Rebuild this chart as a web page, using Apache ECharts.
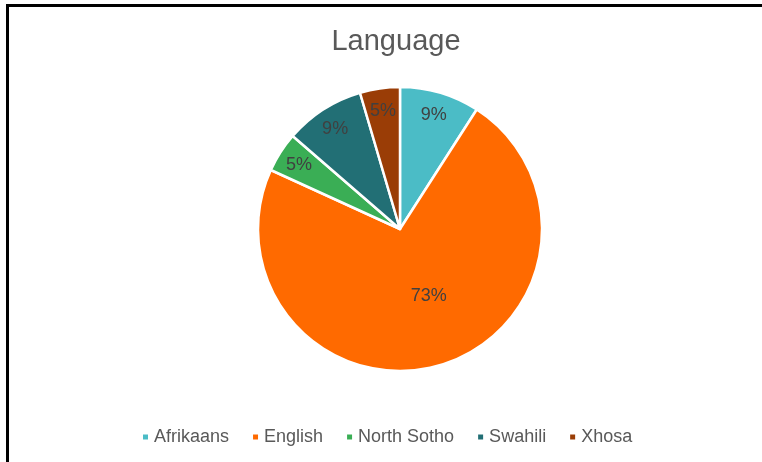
<!DOCTYPE html>
<html>
<head>
<meta charset="utf-8">
<script src="https://cdn.jsdelivr.net/npm/echarts@6/dist/echarts.min.js"></script>
<style>
  html, body { margin: 0; padding: 0; background: #fff; }
  #chart { position: absolute; left: 0; top: 0; width: 762px; height: 462px; }
  #frame { position: absolute; left: 6px; top: 4px; width: 762px; height: 470px;
           border-top: 3px solid #000; border-left: 3px solid #000; pointer-events: none; }
</style>
</head>
<body>
<div id="chart"></div>
<div id="frame"></div>
<script>
const title = 'Language';
const categories = ['Afrikaans', 'English', 'North Sotho', 'Swahili', 'Xhosa'];
const counts = [2, 16, 1, 2, 1];
const colors = ['#4BBCC6', '#FF6A00', '#3AAE55', '#226F75', '#9A3D06'];

const total = counts.reduce((a, b) => a + b, 0);
const fmt = p => Math.round(p.value / total * 100) + '%';

const mainData = categories.map((c, i) => ({
  name: c, value: counts[i],
  itemStyle: { color: colors[i] },
  label: c === 'English'
    ? { show: true, position: 'inside', offset: [8, -4] }
    : { show: false }
}));
const labelData = categories.map((c, i) => ({
  name: c, value: counts[i],
  itemStyle: { color: 'rgba(0,0,0,0)', borderWidth: 0 },
  label: { show: c !== 'English' }
}));

const chart = echarts.init(document.getElementById('chart'), null, { renderer: 'canvas' });
chart.setOption({
  animation: false,
  backgroundColor: '#fff',
  title: {
    text: title, left: 391, top: 22, textAlign: 'center',
    textStyle: { fontFamily: 'Liberation Sans', fontSize: 29, fontWeight: 'normal', color: '#595959' }
  },
  legend: {
    data: categories, bottom: 11, left: 136, icon: 'rect',
    itemWidth: 7, itemHeight: 7, itemGap: 22,
    textStyle: { fontFamily: 'Liberation Sans', fontSize: 18, color: '#595959' }
  },
  series: [
    {
      type: 'pie', center: [400, 229], radius: [0, 142], startAngle: 90,
      clockwise: true, silent: true, avoidLabelOverlap: false,
      itemStyle: { borderColor: '#fff', borderWidth: 2.5 },
      label: { formatter: fmt, fontFamily: 'Liberation Sans', fontSize: 18, color: '#404040' },
      labelLine: { show: false },
      data: mainData
    },
    {
      type: 'pie', center: [400, 230], radius: [92, 142], startAngle: 90,
      clockwise: true, silent: true, avoidLabelOverlap: false,
      label: { position: 'inside', formatter: fmt, fontFamily: 'Liberation Sans', fontSize: 18, color: '#404040' },
      labelLine: { show: false },
      data: labelData
    }
  ]
});
</script>
</body>
</html>
